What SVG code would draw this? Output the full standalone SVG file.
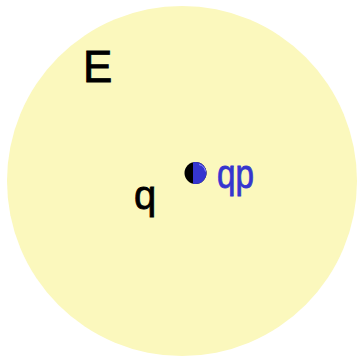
<svg xmlns="http://www.w3.org/2000/svg" width="358" height="357" viewBox="0 0 358 357">
  <style>
    .lbl { font-family: "Liberation Sans", "DejaVu Sans", sans-serif; stroke-width: 0.8; }
    .blk { fill: #000000; stroke: #000000; }
    .blu { fill: #3535cf; stroke: #3535cf; }
  </style>
  <defs>
    <clipPath id="rightPart">
      <rect x="193" y="150" width="30" height="40"/>
    </clipPath>
  </defs>
  <rect x="0" y="0" width="358" height="357" fill="#ffffff"/>
  <g id="field">
    <circle cx="182" cy="181" r="175" fill="#fbf8bd"/>
    <text class="lbl blk" x="83" y="82" font-size="44">E</text>
  </g>
  <g id="charge-q">
    <text class="lbl blk" x="134" y="209" font-size="40">q</text>
  </g>
  <g id="test-charge">
    <circle cx="195.5" cy="173" r="11" fill="#000000"/>
    <circle cx="195.5" cy="173" r="11" fill="#3535cf" clip-path="url(#rightPart)"/>
    <path d="M199 164.5 a8.5 8.5 0 0 1 6.5 7" fill="none" stroke="#8a8aff" stroke-width="1"/>
    <text class="lbl blu" x="217" y="188" font-size="40" textLength="37" lengthAdjust="spacingAndGlyphs">qp</text>
  </g>
  <g id="connectors"></g>
</svg>
